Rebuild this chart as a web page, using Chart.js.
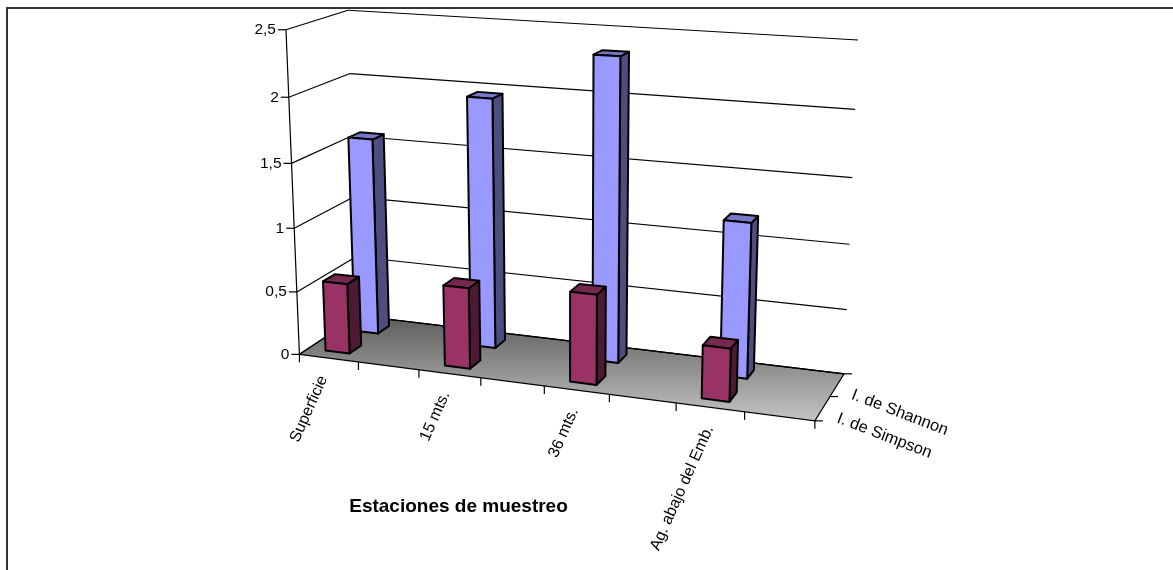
<!DOCTYPE html>
<html>
<head>
<meta charset="utf-8">
<title>Índices de diversidad</title>
<script src="https://cdn.jsdelivr.net/npm/chart.js@4/dist/chart.umd.js"></script>
<style>
    html, body { margin: 0; padding: 0; background: #fff; overflow: hidden; }
    canvas { display: block; }
</style>
</head>
<body>
<canvas id="chart" width="1173" height="570"></canvas>
<script>
const stations = ['Superficie', '15 mts.', '36 mts.', 'Ag. abajo del Emb.'];
const simpson = [0.555, 0.63, 0.69, 0.40];
const shannon = [1.57, 1.96, 2.34, 1.19];
const seriesNames = ['I. de Simpson', 'I. de Shannon'];
const valueTicks = ['0', '0,5', '1', '1,5', '2', '2,5'];
const xTitle = 'Estaciones de muestreo';

const FONT = '"Liberation Sans", Arial, sans-serif';
const BAR_SHIFT = -0.063;   // bars sit ahead of their category centre on the floor
const BAR_DEPTH = 0.2;

// Box corners on screen as [x, y, z, px, py], x/y/z in 0..1. y is the value axis, z goes back.
const boxCorners = [
    [0, 0, 0, 299.3, 354], [1, 0, 0, 815, 421], [0, 1, 0, 286, 30], [0, 0, 1, 358, 316],
    [0, 1, 1, 348, 10], [1, 0, 1, 844, 373.7], [1, 1, 1, 858, 40]
];

// least squares fit of the 3x4 camera matrix, last term fixed to 1
function fitCamera(points) {
    const n = 11;
    const A = Array.from({ length: n }, () => new Array(n + 1).fill(0));
    const addRow = (row, rhs) => {
        for (let i = 0; i < n; i++) {
            for (let j = 0; j < n; j++) A[i][j] += row[i] * row[j];
            A[i][n] += row[i] * rhs;
        }
    };
    points.forEach(([x, y, z, u, v]) => {
        addRow([x, y, z, 1, 0, 0, 0, 0, -u * x, -u * y, -u * z], u);
        addRow([0, 0, 0, 0, x, y, z, 1, -v * x, -v * y, -v * z], v);
    });
    for (let i = 0; i < n; i++) {
        let p = i;
        for (let r = i + 1; r < n; r++) if (Math.abs(A[r][i]) > Math.abs(A[p][i])) p = r;
        [A[i], A[p]] = [A[p], A[i]];
        for (let r = 0; r < n; r++) {
            if (r === i) continue;
            const f = A[r][i] / A[i][i];
            for (let c = i; c <= n; c++) A[r][c] -= f * A[i][c];
        }
    }
    return A.map((row, i) => row[n] / row[i]);
}

const cam = fitCamera(boxCorners);
function project(x, y, z) {
    const w = cam[8] * x + cam[9] * y + cam[10] * z + 1;
    return [
        (cam[0] * x + cam[1] * y + cam[2] * z + cam[3]) / w,
        (cam[4] * x + cam[5] * y + cam[6] * z + cam[7]) / w
    ];
}

function normX(scale, px) { return (px - scale.left) / scale.width; }
function normY(scale, py) { return (scale.bottom - py) / scale.height; }

function line(ctx, a, b) {
    ctx.beginPath();
    ctx.moveTo(a[0], a[1]);
    ctx.lineTo(b[0], b[1]);
    ctx.stroke();
}

function poly(ctx, pts, fill) {
    ctx.beginPath();
    pts.forEach((p, i) => i ? ctx.lineTo(p[0], p[1]) : ctx.moveTo(p[0], p[1]));
    ctx.closePath();
    ctx.fillStyle = fill;
    ctx.fill();
    ctx.stroke();
}

function shade(hex, f) {
    const n = parseInt(hex.slice(1), 16);
    const c = [n >> 16, (n >> 8) & 255, n & 255].map(v => Math.round(v * f));
    return `rgb(${c[0]},${c[1]},${c[2]})`;
}

function rotatedText(ctx, text, x, y, angle, align) {
    ctx.save();
    ctx.translate(x, y);
    ctx.rotate(angle * Math.PI / 180);
    ctx.textAlign = align;
    ctx.textBaseline = 'middle';
    ctx.fillText(text, 0, 0);
    ctx.restore();
}

// bar controller that keeps the usual bar layout but paints each bar as a box
class Bar3dController extends Chart.BarController {
    draw() {
        const ctx = this.chart.ctx;
        const meta = this._cachedMeta;
        const zMid = (this.index + 0.5) / this.chart.data.datasets.length;
        const z0 = zMid - BAR_DEPTH / 2, z1 = zMid + BAR_DEPTH / 2;
        ctx.save();
        ctx.strokeStyle = '#000';
        ctx.lineWidth = 2;
        ctx.lineJoin = 'round';
        meta.data.forEach(bar => {
            const x0 = normX(meta.xScale, bar.x - bar.width / 2) + BAR_SHIFT;
            const x1 = normX(meta.xScale, bar.x + bar.width / 2) + BAR_SHIFT;
            const top = normY(meta.yScale, bar.y);
            const color = bar.options.backgroundColor;
            poly(ctx, [project(x1, 0, z0), project(x1, 0, z1), project(x1, top, z1), project(x1, top, z0)], shade(color, 0.5));
            poly(ctx, [project(x0, top, z0), project(x1, top, z0), project(x1, top, z1), project(x0, top, z1)], shade(color, 0.78));
            poly(ctx, [project(x0, 0, z0), project(x1, 0, z0), project(x1, top, z0), project(x0, top, z0)], color);
        });
        ctx.restore();
    }
}
Bar3dController.id = 'bar3d';
Bar3dController.defaults = { dataElementType: 'bar' };
Chart.register(Bar3dController);

const boxPlugin = {
    id: 'box',
    beforeDatasetsDraw(chart) {
        const { ctx, scales: { x: xs, y: ys } } = chart;
        ctx.save();

        // frame, only top and left edges
        ctx.strokeStyle = '#333';
        ctx.lineWidth = 2;
        ctx.beginPath();
        ctx.moveTo(7, 570);
        ctx.lineTo(7, 8);
        ctx.lineTo(1173, 8);
        ctx.stroke();

        ctx.strokeStyle = '#000';
        ctx.lineWidth = 1.2;

        // floor
        const grad = ctx.createLinearGradient(0, project(0, 0, 1)[1], 0, project(1, 0, 0)[1]);
        grad.addColorStop(0, '#5c5c5c');
        grad.addColorStop(1, '#c4c4c4');
        poly(ctx, [project(0, 0, 0), project(1, 0, 0), project(1, 0, 1), project(0, 0, 1)], grad);

        // gridlines along both walls plus value ticks and labels
        ctx.fillStyle = '#000';
        ctx.font = '15.5px ' + FONT;
        ys.ticks.forEach((t, i) => {
            const v = normY(ys, ys.getPixelForValue(t.value));
            const front = project(0, v, 0);
            line(ctx, front, project(0, v, 1));
            line(ctx, project(0, v, 1), project(1, v, 1));
            line(ctx, front, [front[0] - 8, front[1]]);
            ctx.textAlign = 'right';
            ctx.textBaseline = 'middle';
            ctx.fillText(valueTicks[i], front[0] - 10, front[1]);
        });
        line(ctx, project(0, 0, 0), project(0, 1, 0));

        // category ticks every half band on the front edge
        const band = xs.width / stations.length;
        for (let i = 0; i <= stations.length * 2; i++) {
            const p = project(normX(xs, xs.left + i * band / 2), 0, 0);
            line(ctx, p, [p[0], p[1] + 8]);
        }

        // depth ticks on the right edge
        [0, 0.5, 1].forEach(z => {
            const p = project(1, 0, z);
            line(ctx, p, [p[0] + 8, p[1]]);
        });

        ctx.font = '16px ' + FONT;
        stations.forEach((name, i) => {
            const p = project(normX(xs, xs.getPixelForValue(i)), 0, 0);
            rotatedText(ctx, name, p[0] - 35, p[1] + 14.5, -66, 'right');
        });
        ctx.font = '16.4px ' + FONT;
        seriesNames.forEach((name, i) => {
            const p = project(1, 0, (i + 0.5) / seriesNames.length);
            rotatedText(ctx, name, p[0] + 15, p[1] + 9.5, 21, 'left');
        });

        ctx.font = 'bold 19px ' + FONT;
        ctx.textAlign = 'center';
        ctx.textBaseline = 'middle';
        ctx.fillText(xTitle, 458.5, 507);
        ctx.restore();
    }
};

new Chart(document.getElementById('chart'), {
    type: 'bar3d',
    data: {
        labels: stations,
        datasets: [
            { label: seriesNames[0], data: simpson, backgroundColor: '#993366', clip: false },
            { label: seriesNames[1], data: shannon, backgroundColor: '#9999FF', clip: false }
        ]
    },
    options: {
        responsive: false,
        animation: false,
        grouped: false,
        categoryPercentage: 1,
        barPercentage: 0.205,
        scales: {
            x: { type: 'category', offset: true, display: false },
            y: { type: 'linear', min: 0, max: 2.5, display: false, ticks: { stepSize: 0.5 } }
        },
        plugins: { legend: { display: false }, title: { display: false }, tooltip: { enabled: false } }
    },
    plugins: [boxPlugin]
});
</script>
</body>
</html>
